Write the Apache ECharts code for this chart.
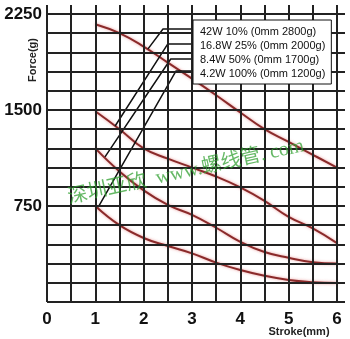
<!DOCTYPE html>
<html>
<head>
<meta charset="utf-8">
<script src="https://cdn.jsdelivr.net/npm/echarts@6/dist/echarts.min.js"></script>
<style>
  html, body { margin: 0; padding: 0; background: #fff; }
  #chart { width: 350px; height: 339px; }
</style>
</head>
<body>
<div id="chart"></div>
<script>
// stroke positions (mm)
const strokes = [1, 1.5, 2, 2.5, 3, 3.5, 4, 4.5, 5, 5.5, 6];

// force (g) per duty setting
const names = [
  "42W 10% (0mm 2800g)",
  "16.8W 25% (0mm 2000g)",
  "8.4W 50% (0mm 1700g)",
  "4.2W 100% (0mm 1200g)"
];
const force42 = [2170, 2100, 1995, 1870, 1745, 1615, 1480, 1350, 1250, 1150, 1050];
const force168 = [1490, 1350, 1200, 1120, 1050, 980, 895, 790, 665, 575, 460];
const force84 = [1200, 1020, 872, 758, 680, 580, 470, 390, 345, 310, 300];
const force42b = [750, 600, 500, 437, 380, 308, 250, 205, 172, 155, 148];

// leader lines from the label box to each curve (data units)
const leader42 = [[2.09, 1977], [2.4, 2133], [3.02, 2133]];
const leader168 = [[1.41, 1375], [2.5, 2016], [3.02, 2016]];
const leader84 = [[1.2, 1133], [2.56, 1898], [3.02, 1898]];
const leader42b = [[1.06, 742], [2.67, 1805], [3.02, 1805]];

// grid ticks
const xTicks = [0, 0.5, 1, 1.5, 2, 2.5, 3, 3.5, 4, 4.5, 5, 5.5, 6];
const yTicks = [0, 150, 300, 450, 600, 750, 900, 1050, 1200, 1350, 1500, 1650, 1800, 1950, 2100, 2250];
const xMax = 6.166;
const yMax = 2320;

const gridLines = [];
xTicks.forEach(x => gridLines.push([{ coord: [x, 0] }, { coord: [x, yMax] }]));
yTicks.forEach(y => gridLines.push([{ coord: [0, y] }, { coord: [xMax, y] }]));

const curveStyle = {
  color: "#8a2a2a",
  width: 2,
  shadowColor: "rgba(225,110,110,0.7)",
  shadowBlur: 3
};

function curve(name, values) {
  return {
    name: name,
    type: "line",
    smooth: 0.45,
    symbol: "none",
    z: 3,
    color: "#8a2a2a",
    lineStyle: curveStyle,
    data: strokes.map((s, i) => [s, values[i]])
  };
}

function leader(points) {
  return {
    type: "line",
    symbol: "none",
    z: 4,
    silent: true,
    lineStyle: { color: "#111", width: 1.5 },
    data: points
  };
}

const chart = echarts.init(document.getElementById("chart"));
chart.setOption({
  animation: false,
  backgroundColor: "#fff",
  grid: { left: 47, right: 5, top: 5, bottom: 37 },
  xAxis: {
    type: "value",
    min: 0,
    max: xMax,
    interval: 1,
    axisLine: { show: false },
    axisTick: { show: false },
    splitLine: { show: false },
    axisLabel: {
      margin: 9,
      fontSize: 17,
      fontWeight: "bold",
      color: "#111",
      fontFamily: "Liberation Sans, Arial",
      formatter: v => (Number.isInteger(v) ? String(v) : "")
    }
  },
  yAxis: {
    type: "value",
    min: 0,
    max: yMax,
    interval: 150,
    axisLine: { show: false },
    axisTick: { show: false },
    splitLine: { show: false },
    axisLabel: {
      margin: 5,
      fontSize: 17,
      fontWeight: "bold",
      color: "#111",
      fontFamily: "Liberation Sans, Arial",
      formatter: v => (v > 0 && v % 750 === 0 ? String(v) : "")
    }
  },
  legend: {
    data: names,
    z: 20,
    orient: "vertical",
    left: 193,
    top: 20,
    icon: "rect",
    itemWidth: 0,
    itemHeight: 11,
    itemGap: 3,
    itemStyle: { opacity: 0 },
    lineStyle: { opacity: 0 },
    padding: [6, 6, 5, 2],
    backgroundColor: "#fff",
    borderColor: "#111",
    borderWidth: 1,
    borderRadius: 0,
    selectedMode: false,
    textStyle: { fontSize: 11, color: "#111", fontFamily: "Liberation Sans, Arial" }
  },
  graphic: [
    {
      type: "text",
      x: 33,
      y: 60,
      rotation: Math.PI / 2,
      style: {
        text: "Force(g)",
        fontSize: 11,
        fontWeight: "bold",
        fontFamily: "Liberation Sans, Arial",
        fill: "#222",
        textAlign: "center",
        textVerticalAlign: "middle"
      }
    },
    {
      type: "text",
      x: 299,
      y: 332,
      style: {
        text: "Stroke(mm)",
        fontSize: 11,
        fontWeight: "bold",
        fontFamily: "Liberation Sans, Arial",
        fill: "#222",
        textAlign: "center",
        textVerticalAlign: "middle"
      }
    },
    {
      // watermark
      type: "text",
      x: 186,
      y: 172,
      rotation: 0.22,
      z: 10,
      style: {
        text: "深圳亚欣  www.螺线管. com",
        fontSize: 20,
        fontFamily: "Liberation Serif, Noto Sans CJK SC",
        fill: "rgba(50,160,50,0.75)",
        textAlign: "center",
        textVerticalAlign: "middle"
      }
    }
  ],
  series: [
    {
      type: "line",
      data: [],
      silent: true,
      z: 1,
      markLine: {
        silent: true,
        symbol: ["none", "none"],
        label: { show: false },
        lineStyle: { color: "#222", width: 2, type: "solid" },
        emphasis: { disabled: true },
        data: gridLines
      }
    },
    curve(names[0], force42),
    curve(names[1], force168),
    curve(names[2], force84),
    curve(names[3], force42b),
    leader(leader42),
    leader(leader168),
    leader(leader84),
    leader(leader42b)
  ]
});
</script>
</body>
</html>
